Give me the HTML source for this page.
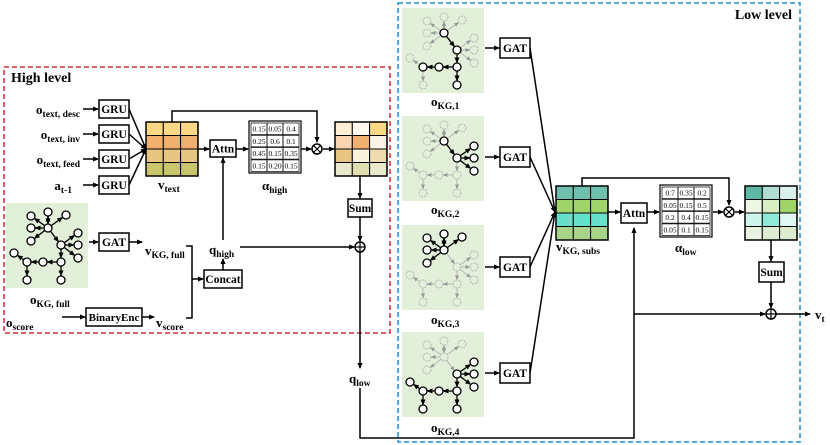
<!DOCTYPE html><html><head><meta charset="utf-8"><style>body{margin:0;background:#fff}svg{display:block;font-family:"Liberation Serif",serif;font-weight:bold}</style></head><body>
<svg id="s" width="830" height="445" viewBox="0 0 830 445" xmlns="http://www.w3.org/2000/svg">
<defs><marker id="a" markerWidth="6" markerHeight="6" refX="5" refY="3" orient="auto" markerUnits="userSpaceOnUse"><path d="M0,0.5L6,3L0,5.5z" fill="#000"/></marker>
<marker id="g" markerWidth="5" markerHeight="5" refX="4" refY="2.5" orient="auto" markerUnits="userSpaceOnUse"><path d="M0,0.5L5,2.5L0,4.5z" fill="#999"/></marker></defs>
<rect x="4" y="67" width="386" height="266" fill="none" stroke="#d62d3a" stroke-width="1.5" stroke-dasharray="5,3"/>
<rect x="398" y="3" width="402" height="439" fill="none" stroke="#1d8fd6" stroke-width="1.5" stroke-dasharray="5,3"/>
<text x="11" y="82" font-size="14">High level</text>
<text x="792" y="19" font-size="14" text-anchor="end">Low level</text>
<g id="main" stroke="#000" stroke-width="1.5" fill="none"></g>
<g id="txt" font-size="12"></g>
</svg>
<script>
const S=document.getElementById('s'),M=document.getElementById('main'),T=document.getElementById('txt');
const NS='http://www.w3.org/2000/svg';
function el(p,t,a,tx){const e=document.createElementNS(NS,t);for(const k in a)e.setAttribute(k,a[k]);if(tx!=null)e.textContent=tx;p.appendChild(e);return e}
function ln(pts,arr){el(M,'polyline',{points:pts,'marker-end':arr?'url(#a)':''})}
function box(x,y,w,h,t,fs){el(M,'rect',{x,y,width:w,height:h,fill:'#fff'});el(T,'text',{x:x+w/2,y:y+h/2+4,'text-anchor':'middle','font-size':fs||11.5},t)}
function lab(x,y,m,sub,anchor,fs){const t=el(T,'text',{x,y,'text-anchor':anchor||'start','font-size':fs||13});el(t,'tspan',{},m);el(t,'tspan',{'font-size':9.5,dy:3},sub)}
const N=[[25,13],[42,9],[60,12],[25,25],[42,25],[72,30],[25,38],[55,42],[72,42],[72,55],[8,50],[21,59],[37,59],[55,59],[21,77],[55,77]];
const E=[[4,0],[4,1],[1,4],[4,2],[4,3],[4,6],[4,7],[7,5],[7,8],[7,9],[7,13],[13,12],[12,11],[11,10],[11,14],[13,15]];
function graph(x,y,hi){el(S,'rect',{x,y,width:82,height:85,fill:'#e2f0d9'},null);const g=el(S,'g',{});
E.forEach(([a,b])=>{const h=hi.includes(a)&&hi.includes(b);const [x1,y1]=N[a],[x2,y2]=N[b];const dx=x2-x1,dy=y2-y1,d=Math.hypot(dx,dy);
el(g,'line',{x1:x+x1+dx/d*4,y1:y+y1+dy/d*4,x2:x+x2-dx/d*4.5,y2:y+y2-dy/d*4.5,stroke:h?'#000':'#aaa','stroke-width':h?1.3:0.8,'marker-end':h?'url(#a)':'url(#g)'})});
N.forEach((p,i)=>{const h=hi.includes(i);el(g,'circle',{cx:x+p[0],cy:y+p[1],r:4,fill:h?'#fff':'none',stroke:h?'#000':'#aaa','stroke-width':h?1.3:0.8,'stroke-dasharray':h?'':'2,1'})})}
const all=[...Array(16).keys()];
graph(6,203,all);
graph(402,8,[4,7,13,12,11,15]);
graph(402,116,[4,7,5,8,9]);
graph(402,225,[4,0,1,2,3,6]);
graph(402,332,[7,5,8,9,13,12,11,10,14,15]);
function mat(x,y,cols){cols.forEach((r,i)=>r.forEach((c,j)=>el(S,'rect',{x:x+j*17.3,y:y+i*13.5,width:17.3,height:13.5,fill:c,stroke:'#000','stroke-width':1})));el(S,'rect',{x,y,width:52,height:54,fill:'none',stroke:'#000','stroke-width':1.5})}
function tab(x,y,v){el(S,'rect',{x,y,width:52,height:52,fill:'#fff',stroke:'#000','stroke-width':1.2});v.forEach((r,i)=>r.forEach((c,j)=>{el(S,'rect',{x:x+2+j*16,y:y+2+i*12.3,width:16,height:11.5,fill:'none',stroke:'#000','stroke-width':.7});el(S,'text',{x:x+10+j*16,y:y+10.5+i*12.3,'text-anchor':'middle','font-size':7.5,'font-weight':'normal'},c)}))}
mat(146,122,[['#fbd886','#fbd886','#fbd886'],['#f2b070','#f2b070','#f2b070'],['#e7c683','#e7c683','#e7c683'],['#c9c56c','#c9c56c','#c9c56c']]);
mat(335,122,[['#fdf0d5','#fffaf0','#fbd886'],['#f8d4b2','#f2b070','#fdf3e6'],['#e7c683','#f9f1dc','#eedcae'],['#eae9cd','#dfdfb0','#eae9cd']]);
mat(556,186,[['#6fbfae','#6fbfae','#6fbfae'],['#9ed46a','#9ed46a','#9ed46a'],['#66e0c8','#66e0c8','#66e0c8'],['#a8d48a','#a8d48a','#a8d48a']]);
mat(745,186,[['#5db9a5','#b0dcd2','#daf0ec'],['#eef6e6','#d9eec5','#9ed46a'],['#cdf5ec','#8eead6','#e0f8f3'],['#e8f3e2','#dbecd2','#dbeccf']]);
tab(249,121,[['0.15','0.05','0.4'],['0.25','0.6','0.1'],['0.45','0.15','0.35'],['0.15','0.20','0.15']]);
tab(660,185,[['0.7','0.35','0.2'],['0.05','0.15','0.5'],['0.2','0.4','0.15'],['0.05','0.1','0.15']]);
const gy=[109,134,159,185];
gy.forEach(y=>{ln(`83,${y} 98,${y}`,1);ln(`129,${y} 146,149`,1)});
gy.forEach(y=>box(99,y-9,30,18,'GRU'));
lab(80,114,'o','text, desc','end');lab(80,139,'o','text, inv','end');lab(80,164,'o','text, feed','end');lab(72,190,'a','t-1','end');
lab(158,189,'v','text');
ln('198,149 209,149',1);ln('236,149 248,149',1);ln('301,149 311,149',1);ln('323,149 334,149',1);
ln('172,122 172,111 317,111 317,142',1);
box(210,140,26,17,'Attn');
el(M,'circle',{cx:317,cy:149,r:5});el(M,'path',{d:'M313.5,145.5L320.5,152.5M320.5,145.5L313.5,152.5','stroke-width':1.2});
lab(262,190,'α','high');
ln('360,176 360,198',1);box(348,199,24,18,'Sum');ln('360,217 360,241',1);
el(M,'circle',{cx:360,cy:247,r:5});el(M,'path',{d:'M355,247H365M360,242V252','stroke-width':1.2});
ln('360,252 360,368',1);
lab(349,383,'q','low');
ln('360,388 360,438 634,438 634,228',1);
ln('634,314 765,314',1);
ln('89,242 98,242',1);box(99,233,30,18,'GAT');ln('129,242 142,242',1);
lab(145,255,'v','KG, full');
lab(209,254,'q','high');ln('240,247 354,247',1);
ln('223,240 223,158',1);ln('223,270 223,259',1);
ln('186,246 192,246 192,318 186,318',0);ln('192,279 203,279',1);box(204,270,38,18,'Concat');
lab(30,304,'o','KG, full');
lab(6,327,'o','score');ln('62,317 85,317',1);box(86,308,56,18,'BinaryEnc',11);ln('142,317 154,317',1);lab(156,327,'v','score');
[[48],[157],[267],[373]].forEach(([y])=>{ln(`485,${y} 499,${y}`,1);box(500,y-10,30,20,'GAT');ln(`530,${y} 555,212`,1)});
lab(431,106,'o','KG,1');lab(431,214,'o','KG,2');lab(431,324,'o','KG,3');lab(431,432,'o','KG,4');
lab(556,251,'v','KG, subs');
ln('608,212 620,212',1);box(621,203,26,20,'Attn');ln('647,212 659,212',1);ln('713,212 723,212',1);ln('735,212 744,212',1);
ln('582,186 582,178 729,178 729,205',1);
el(M,'circle',{cx:729,cy:212,r:5});el(M,'path',{d:'M725.5,208.5L732.5,215.5M732.5,208.5L725.5,215.5','stroke-width':1.2});
lab(675,252,'α','low');
ln('771,240 771,261',1);box(759,262,25,20,'Sum');ln('771,282 771,308',1);
el(M,'circle',{cx:771,cy:314,r:5});el(M,'path',{d:'M766,314H776M771,309V319','stroke-width':1.2});
ln('776,314 810,314',1);lab(815,319,'v','t');
</script></body></html>
